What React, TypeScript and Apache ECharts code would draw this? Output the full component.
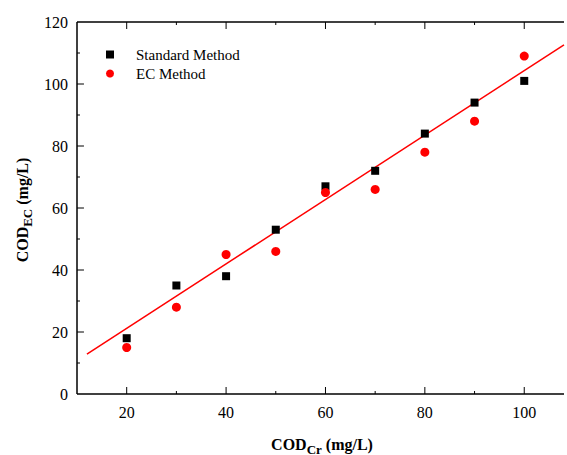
import React, { useEffect, useRef } from "react";
import * as echarts from "echarts";

const xValues = [20, 30, 40, 50, 60, 70, 80, 90, 100];
const standardValues = [18, 35, 38, 53, 67, 72, 84, 94, 101];
const ecValues = [15, 28, 45, 46, 65, 66, 78, 88, 109];
const fitLine = [
  [12, 12.9],
  [108, 112.6],
];
const seriesNames = ["Standard Method", "EC Method"];
const xMajorTicks = [20, 40, 60, 80, 100];
const xMinorTicks = [30, 50, 70, 90];
const yMajorTicks = [20, 40, 60, 80, 100];
const yMinorTicks = [10, 30, 50, 70, 90, 110];
const xTitle = "{a|COD}{b|Cr}{a| (mg/L)}";
const yTitle = "{a|COD}{b|EC}{a| (mg/L)}";

const FONT = "Liberation Serif";
const X_MIN = 10;
const X_MAX = 108;
const Y_MIN = 0;
const Y_MAX = 120;

// plot area in pixels (used only to turn tick lengths in px into axis units)
const GRID = { left: 77, right: 0, top: 22, bottom: 61 };
const W = 567;
const H = 455;
const PX_X = (X_MAX - X_MIN) / (W - GRID.left - GRID.right);
const PX_Y = (Y_MAX - Y_MIN) / (H - GRID.top - GRID.bottom);
const MAJOR = 7;
const MINOR = 3;

const titleRich = {
  a: { fontFamily: FONT, fontSize: 16, fontWeight: "bold", fill: "#000", color: "#000" },
  b: {
    fontFamily: FONT,
    fontSize: 13,
    fontWeight: "bold",
    fill: "#000",
    color: "#000",
    padding: [10, 0, 0, 0],
  },
};

function seg(id: string, data: number[][], width: number) {
  return {
    id,
    type: "line",
    data,
    symbol: "none",
    silent: true,
    clip: false,
    legendHoverLink: false,
    lineStyle: { color: "#000", width },
    z: 4,
  };
}

export default function App() {
  const ref = useRef<HTMLDivElement>(null);
  useEffect(() => {
    if (!ref.current) return;
    const chart = echarts.init(ref.current, null, { renderer: "svg" });

    const frame: any[] = [
      seg("fb", [[X_MIN, Y_MIN], [X_MAX, Y_MIN]], 1.5),
      seg("ft", [[X_MIN, Y_MAX], [X_MAX, Y_MAX]], 1.5),
      seg("fl", [[X_MIN, Y_MIN], [X_MIN, Y_MAX]], 1.5),
    ];
    const ticks: any[] = [];
    const addX = (vals: number[], len: number, tag: string) =>
      vals.forEach((v) => {
        ticks.push(seg("xb" + tag + v, [[v, Y_MIN], [v, Y_MIN + len * PX_Y]], 1));
        ticks.push(seg("xt" + tag + v, [[v, Y_MAX], [v, Y_MAX - len * PX_Y]], 1));
      });
    const addY = (vals: number[], len: number, tag: string) =>
      vals.forEach((v) => {
        ticks.push(seg("yl" + tag + v, [[X_MIN, v], [X_MIN + len * PX_X, v]], 1));
      });
    addX(xMajorTicks, MAJOR, "M");
    addX(xMinorTicks, MINOR, "m");
    addY(yMajorTicks, MAJOR, "M");
    addY(yMinorTicks, MINOR, "m");

    chart.setOption({
      animation: false,
      backgroundColor: "#fff",
      textStyle: { fontFamily: FONT },
      grid: { ...GRID },
      legend: {
        data: seriesNames,
        orient: "vertical",
        left: 101,
        top: 42,
        itemWidth: 8,
        itemHeight: 8,
        itemGap: 4,
        textStyle: {
          fontFamily: FONT,
          fontSize: 15,
          color: "#000",
          padding: [0, 0, 0, 17],
        },
      },
      graphic: [
        {
          type: "text",
          x: 322,
          y: 444,
          style: { text: xTitle, rich: titleRich, align: "center", verticalAlign: "middle" },
        },
        {
          type: "text",
          x: 22,
          y: 210,
          rotation: Math.PI / 2,
          style: { text: yTitle, rich: titleRich, align: "center", verticalAlign: "middle" },
        },
      ],
      xAxis: {
        type: "value",
        min: X_MIN,
        max: X_MAX,
        interval: 10,
        axisLine: { show: false },
        axisTick: { show: false },
        splitLine: { show: false },
        axisLabel: {
          fontFamily: FONT,
          fontSize: 16,
          color: "#000",
          margin: 10,
          formatter: (v: number) => (v % 20 === 0 ? String(v) : ""),
        },
      },
      yAxis: {
        type: "value",
        min: Y_MIN,
        max: Y_MAX,
        interval: 20,
        axisLine: { show: false },
        axisTick: { show: false },
        splitLine: { show: false },
        axisLabel: { fontFamily: FONT, fontSize: 16, color: "#000", margin: 9 },
      },
      series: [
        ...frame,
        ...ticks,
        {
          name: seriesNames[0],
          type: "scatter",
          symbol: "rect",
          symbolSize: 8,
          itemStyle: { color: "#000", opacity: 1 },
          data: xValues.map((x, i) => [x, standardValues[i]]),
          z: 5,
        },
        {
          name: seriesNames[1],
          type: "scatter",
          symbol: "circle",
          symbolSize: 9,
          itemStyle: { color: "#ff0000", opacity: 1 },
          data: xValues.map((x, i) => [x, ecValues[i]]),
          z: 5,
        },
        {
          id: "fit",
          type: "line",
          data: fitLine,
          symbol: "none",
          silent: true,
          lineStyle: { color: "#ff0000", width: 1.5 },
          z: 4,
        },
      ],
    });
    return () => chart.dispose();
  }, []);
  return <div ref={ref} style={{ width: W, height: H, position: "absolute", left: 0, top: 0 }} />;
}
